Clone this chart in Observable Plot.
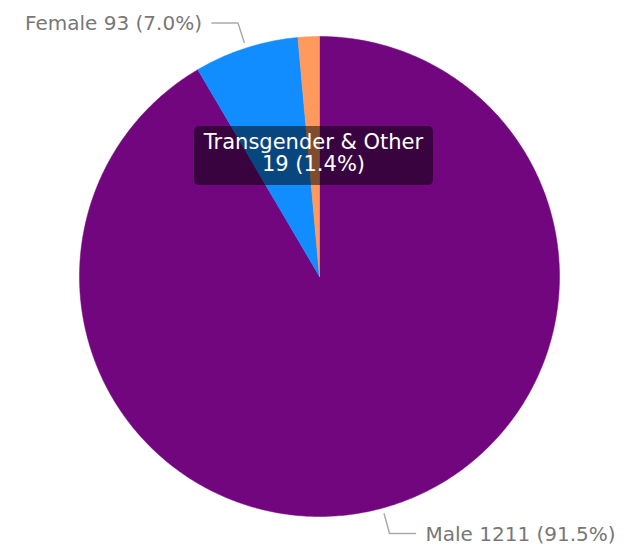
<!DOCTYPE html>
<html>
<head>
<meta charset="utf-8">
<script src="https://cdn.jsdelivr.net/npm/d3@7"></script>
<script src="https://cdn.jsdelivr.net/npm/@observablehq/plot@0.6"></script>
<style>
  html, body { margin: 0; padding: 0; background: #fff; }
  #wrap { position: relative; width: 630px; height: 550px; }
  #tip {
    position: absolute; left: 194px; top: 126px; width: 239px; height: 59px;
    background: rgba(0,0,0,0.5); border-radius: 5px; color: #fff;
    font-family: "DejaVu Sans", sans-serif; font-size: 21px; line-height: 22px;
    text-align: center; box-sizing: border-box; padding-top: 5px; white-space: nowrap;
  }
</style>
</head>
<body>
<div id="wrap"></div>
<script>
const categories = ["Male", "Female", "Transgender & Other"];
const counts = [1211, 93, 19];
const percents = ["91.5%", "7.0%", "1.4%"];
const colors = ["#72067F", "#118DFF", "#FF9A5C"];

const pie = d3.pie().sort(null).value(d => d.count)(categories.map((c, i) => ({cat: c, count: counts[i], pct: percents[i], i})));

// polygon points for each slice (unit radius, y up)
const pts = [];
pie.forEach(s => {
  const n = Math.max(2, Math.ceil((s.endAngle - s.startAngle) / 0.01));
  pts.push({cat: s.data.cat, x: 0, y: 0});
  for (let k = 0; k <= n; k++) {
    const a = s.startAngle + (s.endAngle - s.startAngle) * k / n;
    pts.push({cat: s.data.cat, x: Math.sin(a), y: Math.cos(a)});
  }
  pts.push({cat: s.data.cat, x: 0, y: 0});
});

// outside labels for Male and Female
const R = 240;
const labels = pie.filter(s => s.data.cat !== "Transgender & Other").map(s => {
  const m = (s.startAngle + s.endAngle) / 2;
  const side = Math.sin(m) >= 0 ? 1 : -1;
  const ex = 1.11 * Math.sin(m), ey = 1.11 * Math.cos(m);
  return {
    cat: s.data.cat, side,
    text: `${s.data.cat} ${s.data.count} (${s.data.pct})`,
    line: [
      {x: 1.025 * Math.sin(m), y: 1.025 * Math.cos(m)},
      {x: ex, y: ey},
      {x: ex + side * 26 / R, y: ey}
    ],
    tx: ex + side * 36 / R, ty: ey
  };
});
const leader = labels.flatMap(l => l.line.map(p => ({...p, cat: l.cat})));
const textOpts = {x: "tx", y: "ty", text: "text", fill: "#777777", fontSize: 20,
  fontFamily: "'DejaVu Sans', sans-serif", dy: 1};

const cx = 319, cy = 276;
const chart = Plot.plot({
  width: 630, height: 550,
  margin: 0,
  x: {domain: [-cx / R, (630 - cx) / R], axis: null},
  y: {domain: [-(550 - cy) / R, cy / R], axis: null},
  color: {domain: categories, range: colors},
  style: {background: "#fff"},
  marks: [
    Plot.line(pts, {x: "x", y: "y", fill: "cat", z: "cat", stroke: "cat", strokeWidth: 0.5, curve: "linear"}),
    Plot.line(leader, {x: "x", y: "y", z: "cat", stroke: "#aaaaaa", strokeWidth: 1.5}),
    Plot.text(labels.filter(d => d.side > 0), {...textOpts, textAnchor: "start"}),
    Plot.text(labels.filter(d => d.side < 0), {...textOpts, textAnchor: "end"})
  ]
});
document.getElementById("wrap").appendChild(chart);
const tip = document.createElement("div");
tip.id = "tip";
const t = pie[2].data;
tip.innerHTML = `${t.cat}<br>${t.count} (${t.pct})`;
document.getElementById("wrap").appendChild(tip);
</script>
</body>
</html>
